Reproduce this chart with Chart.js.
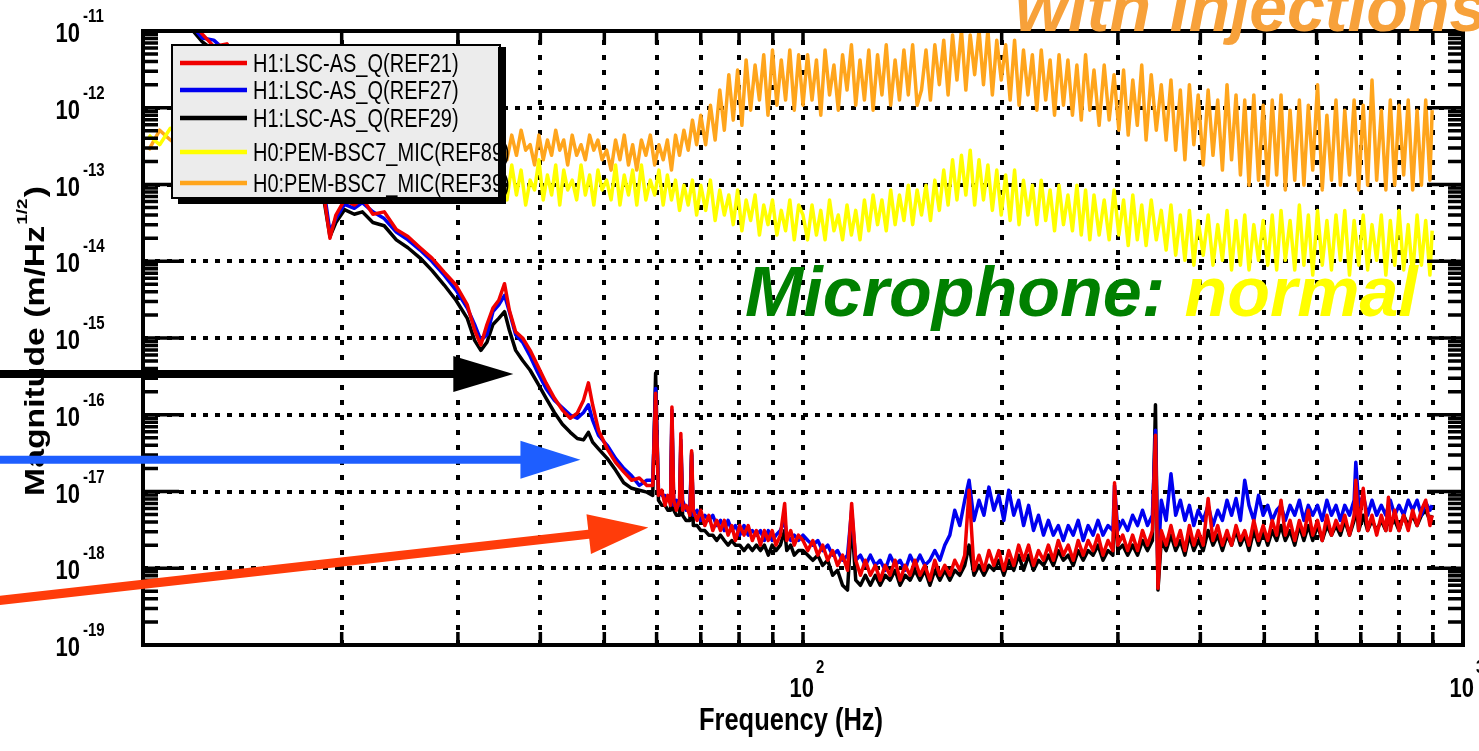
<!DOCTYPE html>
<html>
<head>
<meta charset="utf-8">
<script src="https://cdn.jsdelivr.net/npm/chart.js@4.4.1/dist/chart.umd.min.js"></script>
<style>
html, body { margin: 0; padding: 0; background: #fff; }
canvas { display: block; }
</style>
</head>
<body>
<canvas id="psd" width="1479" height="751" style="width:1479px;height:751px"></canvas>
<script>
// ---- data (Hz, m/rtHz) ----
const freqDet = [
  11.8, 12.3, 12.8, 13.4, 14.0, 14.7, 15.5, 16.4, 17.3, 18.2,
  18.8, 19.2, 19.6, 20.2, 20.9, 21.5, 22.3, 23.2, 24.2, 25.2,
  26.3, 27.4, 28.6, 29.8, 31.0, 31.8, 32.5, 33.2, 33.9, 34.6,
  35.3, 35.9, 36.7, 37.6, 38.6, 39.6, 40.8, 42.0, 43.2, 44.4,
  45.5, 46.5, 47.3, 48.0, 49.0, 50.5, 52.0, 53.5, 55.0, 56.5,
  58.0,
  59.2, 59.8, 60.4, 61.1, 61.8, 62.4, 63.0, 63.3, 63.7, 64.3,
  65.0, 65.3, 65.7, 66.5, 67.4, 67.8, 68.2, 69.1, 70, 71,
  72, 73, 74, 75, 76, 77, 78, 79, 80.2, 81.4,
  82.6, 83.8, 85, 86.2, 87.4, 88.6, 89.8, 91, 92.4, 93.8,
  94.5, 95.8, 97, 98.4,
  100, 101.7, 103.5, 105.3, 107.1, 109, 110.9, 112.8, 114.8, 116.8,
  118.5, 120.2, 122.2, 124.3, 126.5, 128.7, 130.9, 133.2, 135.5, 137.9,
  140.3, 142.8, 145.3, 147.8, 150.4, 153, 155.7, 158.4, 161.2, 164,
  166.9, 169.8, 172.8, 175.8, 178.5,
  181.6, 184.8, 188, 191.3, 194.6, 198, 201.5, 205, 208.6, 212.2,
  215.9, 219.7, 223.5, 227.4, 231.4, 235.4, 239.5, 243.7, 248, 252.3,
  256.7, 261.2, 265.8, 270.4, 275.1, 279.9, 284.8, 289.8, 294.8, 296.5,
  299.9, 305.1, 310.4, 315.8, 321.3, 326.9, 332.6, 338.4,
  342, 345, 349, 355, 361, 367, 373, 379, 385, 391,
  397, 404, 411, 418, 425, 432, 439, 446, 453, 460,
  467, 474, 482, 490, 498, 506, 514, 522, 530, 538,
  547, 556, 565, 574, 583, 592, 602, 612, 622, 632,
  642, 652, 662, 673, 684, 688, 695, 706, 717, 728,
  740, 752, 764, 771, 776, 788, 800, 813, 826, 839,
  852, 865, 878, 891, 898
];

const ref21 = [
  1.4e-11, 9.1e-12, 6.3e-12, 6.8e-12, 4.0e-12, 2.9e-12, 1.7e-12, 1.0e-12, 5.1e-13, 2.1e-13,
  7.2e-14, 2.0e-14, 4.0e-14, 6.3e-14, 5.4e-14, 6.6e-14, 4.1e-14, 4.4e-14, 2.6e-14, 2.1e-14,
  1.5e-14, 1.1e-14, 7.2e-15, 4.9e-15, 2.7e-15, 1.26e-15, 8.1e-16, 1.5e-15, 2.45e-15, 3.1e-15,
  5.1e-15, 2.3e-15, 1.2e-15, 1.0e-15, 6.9e-16, 4.4e-16, 2.6e-16, 1.65e-16, 1.15e-16, 9.0e-17,
  1.05e-16, 1.55e-16, 2.6e-16, 1.35e-16, 6.3e-17, 3.6e-17, 2.4e-17, 1.8e-17, 1.4e-17, 1.5e-17,
  1.2e-17,
  1.2e-17, 1.9e-16, 8.9e-18, 1.04e-17, 6.6e-18, 8.9e-18, 6.6e-18, 1.26e-16, 7.7e-18, 5.7e-18,
  7.7e-18, 5.7e-17, 5.7e-18, 6.6e-18, 4.9e-18, 3.4e-17, 5.7e-18, 4.2e-18, 5.7e-18, 3.6e-18,
  4.9e-18, 3.1e-18, 4.2e-18, 3.1e-18, 4.2e-18, 2.7e-18, 3.6e-18, 2.3e-18, 3.6e-18, 2.7e-18,
  3.6e-18, 2.3e-18, 3.1e-18, 2.0e-18, 3.1e-18, 2.3e-18, 3.1e-18, 2.0e-18, 2.7e-18, 7.0e-18,
  2.3e-18, 3.1e-18, 2.0e-18, 2.7e-18,
  2.3e-18, 1.7e-18, 2.3e-18, 1.48e-18, 2.0e-18, 1.27e-18, 1.7e-18, 1.09e-18, 1.48e-18, 9.4e-19,
  7.0e-18, 1.27e-18, 8.1e-19, 1.27e-18, 8.1e-19, 1.09e-18, 7.0e-19, 1.09e-18, 8.1e-19, 1.27e-18,
  7.0e-19, 1.09e-18, 8.1e-19, 1.27e-18, 8.1e-19, 1.09e-18, 7.0e-19, 1.27e-18, 8.1e-19, 1.09e-18,
  8.1e-19, 1.27e-18, 9.4e-19, 1.48e-18, 1.04e-17,
  9.4e-19, 1.48e-18, 9.4e-19, 1.7e-18, 1.09e-18, 1.7e-18, 9.4e-19, 1.7e-18, 1.09e-18, 2.0e-18,
  1.27e-18, 2.0e-18, 1.09e-18, 1.7e-18, 1.27e-18, 2.0e-18, 1.27e-18, 2.3e-18, 1.48e-18, 2.0e-18,
  1.27e-18, 2.3e-18, 1.48e-18, 2.3e-18, 1.7e-18, 2.7e-18, 1.48e-18, 2.3e-18, 1.7e-18, 1.3e-17,
  2.0e-18, 2.7e-18, 1.7e-18, 2.7e-18, 1.7e-18, 3.1e-18, 2.0e-18, 3.1e-18,
  5.4e-17, 5.5e-19, 3.1e-18, 2.0e-18, 3.6e-18, 2.0e-18, 3.1e-18, 1.7e-18, 3.6e-18, 2.0e-18,
  3.1e-18, 2.0e-18, 8.1e-18, 2.3e-18, 3.6e-18, 2.0e-18, 3.1e-18, 2.0e-18, 3.6e-18, 2.3e-18,
  3.1e-18, 2.0e-18, 4.2e-18, 2.3e-18, 3.6e-18, 2.3e-18, 4.2e-18, 2.7e-18, 7.7e-18, 2.7e-18,
  4.2e-18, 2.3e-18, 4.2e-18, 2.7e-18, 5.7e-18, 2.7e-18, 4.2e-18, 2.3e-18, 4.9e-18, 2.7e-18,
  4.2e-18, 3.1e-18, 4.9e-18, 2.7e-18, 4.9e-18, 1.4e-17, 3.1e-18, 1.1e-17, 3.1e-18, 4.9e-18,
  2.7e-18, 4.9e-18, 3.1e-18, 8.4e-18, 3.1e-18, 5.7e-18, 3.1e-18, 4.9e-18, 3.1e-18, 5.7e-18,
  3.6e-18, 5.7e-18, 7.7e-18, 3.6e-18, 4.9e-18
];

const ref27 = [
  1.23e-11, 8.1e-12, 7.6e-12, 5.3e-12, 4.2e-12, 2.6e-12, 1.8e-12, 8.7e-13, 5.8e-13, 2.4e-13,
  8.5e-14, 2.4e-14, 3.6e-14, 5.5e-14, 4.9e-14, 5.8e-14, 4.4e-14, 3.6e-14, 2.4e-14, 1.9e-14,
  1.4e-14, 1.0e-14, 6.6e-15, 4.2e-15, 2.45e-15, 1.5e-15, 9.3e-16, 1.1e-15, 2.2e-15, 2.7e-15,
  3.6e-15, 2.2e-15, 1.1e-15, 8.8e-16, 5.8e-16, 3.6e-16, 2.2e-16, 1.55e-16, 1.23e-16, 9.9e-17,
  9.0e-17, 1.07e-16, 1.35e-16, 8.5e-17, 5.4e-17, 4.0e-17, 2.7e-17, 2.0e-17, 1.6e-17, 1.2e-17,
  1.4e-17,
  1.4e-17, 2.2e-16, 1.04e-17, 8.9e-18, 8.9e-18, 7.7e-18, 7.7e-18, 1.15e-16, 6.6e-18, 7.7e-18,
  6.6e-18, 4.7e-17, 7.7e-18, 5.7e-18, 6.6e-18, 3.0e-17, 4.9e-18, 5.7e-18, 4.2e-18, 4.9e-18,
  4.2e-18, 4.9e-18, 3.6e-18, 4.2e-18, 3.1e-18, 4.2e-18, 3.1e-18, 3.6e-18, 2.7e-18, 3.6e-18,
  2.7e-18, 3.1e-18, 2.7e-18, 3.1e-18, 2.3e-18, 3.1e-18, 2.3e-18, 2.7e-18, 3.1e-18, 4.2e-18,
  2.7e-18, 2.3e-18, 2.7e-18, 2.3e-18,
  2.7e-18, 2.3e-18, 2.0e-18, 2.3e-18, 1.7e-18, 2.0e-18, 1.48e-18, 1.7e-18, 1.27e-18, 1.48e-18,
  5.7e-18, 1.27e-18, 1.48e-18, 1.09e-18, 1.48e-18, 1.09e-18, 1.27e-18, 9.4e-19, 1.48e-18, 1.09e-18,
  1.27e-18, 9.4e-19, 1.48e-18, 1.09e-18, 1.48e-18, 1.09e-18, 1.27e-18, 1.7e-18, 1.27e-18, 2.0e-18,
  2.7e-18, 5.7e-18, 3.6e-18, 7.7e-18, 1.4e-17,
  4.2e-18, 7.7e-18, 4.9e-18, 1.14e-17, 5.7e-18, 8.9e-18, 4.2e-18, 1.04e-17, 4.9e-18, 7.7e-18,
  3.6e-18, 6.6e-18, 3.1e-18, 4.9e-18, 2.7e-18, 4.2e-18, 2.7e-18, 3.6e-18, 2.3e-18, 3.6e-18,
  2.7e-18, 4.2e-18, 2.3e-18, 3.6e-18, 2.7e-18, 4.2e-18, 2.7e-18, 3.6e-18, 3.1e-18, 1.2e-17,
  3.1e-18, 4.2e-18, 3.1e-18, 4.9e-18, 3.6e-18, 5.7e-18, 3.6e-18, 4.9e-18,
  6.3e-17, 9.4e-19, 7.7e-18, 4.2e-18, 1.7e-17, 4.9e-18, 7.7e-18, 4.2e-18, 6.6e-18, 3.6e-18,
  5.7e-18, 4.2e-18, 6.6e-18, 3.6e-18, 5.7e-18, 4.2e-18, 7.7e-18, 4.9e-18, 8.1e-18, 4.2e-18,
  1.4e-17, 6.6e-18, 4.2e-18, 8.9e-18, 4.9e-18, 6.6e-18, 4.2e-18, 5.7e-18, 6.6e-18, 4.2e-18,
  6.6e-18, 4.9e-18, 7.7e-18, 4.2e-18, 6.6e-18, 4.9e-18, 6.6e-18, 4.2e-18, 7.7e-18, 4.9e-18,
  6.6e-18, 4.2e-18, 6.6e-18, 4.9e-18, 7.7e-18, 2.4e-17, 6.6e-18, 8.9e-18, 4.9e-18, 7.7e-18,
  4.9e-18, 6.6e-18, 4.9e-18, 6.6e-18, 7.7e-18, 4.9e-18, 6.6e-18, 4.9e-18, 7.7e-18, 5.7e-18,
  7.7e-18, 4.9e-18, 7.2e-18, 5.7e-18, 6.6e-18
];

const ref29 = [
  1.1e-11, 7.2e-12, 5.6e-12, 4.7e-12, 3.3e-12, 2.3e-12, 1.4e-12, 7.8e-13, 4.0e-13, 1.6e-13,
  6.3e-14, 2.1e-14, 3.2e-14, 4.7e-14, 4.1e-14, 4.4e-14, 3.2e-14, 2.9e-14, 1.9e-14, 1.5e-14,
  1.1e-14, 7.6e-15, 4.9e-15, 3.1e-15, 1.8e-15, 9.3e-16, 6.9e-16, 8.8e-16, 1.5e-15, 1.8e-15,
  2.2e-15, 1.26e-15, 6.9e-16, 5.1e-16, 3.8e-16, 2.6e-16, 1.65e-16, 1.07e-16, 7.5e-17, 5.9e-17,
  4.9e-17, 4.7e-17, 5.9e-17, 4.4e-17, 3.6e-17, 2.7e-17, 1.9e-17, 1.3e-17, 1.1e-17, 1.04e-17,
  9.8e-18,
  8.9e-18, 3.5e-16, 7.7e-18, 6.6e-18, 6.6e-18, 5.7e-18, 5.7e-18, 8.5e-17, 5.7e-18, 4.9e-18,
  4.9e-18, 4.0e-17, 4.9e-18, 4.2e-18, 4.2e-18, 3.2e-17, 3.6e-18, 3.6e-18, 3.1e-18, 3.1e-18,
  2.7e-18, 2.7e-18, 2.3e-18, 2.7e-18, 2.3e-18, 2.0e-18, 2.3e-18, 2.0e-18, 2.0e-18, 1.7e-18,
  2.0e-18, 1.7e-18, 2.0e-18, 1.7e-18, 2.0e-18, 1.48e-18, 2.0e-18, 1.7e-18, 2.0e-18, 3.1e-18,
  1.7e-18, 2.0e-18, 1.48e-18, 1.7e-18,
  1.7e-18, 1.48e-18, 1.27e-18, 1.48e-18, 1.09e-18, 1.27e-18, 8.1e-19, 9.4e-19, 6.0e-19, 5.2e-19,
  4.2e-18, 7.0e-19, 6.0e-19, 8.1e-19, 6.0e-19, 8.1e-19, 6.0e-19, 8.1e-19, 7.0e-19, 9.4e-19,
  6.0e-19, 8.1e-19, 7.0e-19, 9.4e-19, 7.0e-19, 9.4e-19, 6.0e-19, 9.4e-19, 7.0e-19, 9.4e-19,
  7.0e-19, 9.4e-19, 8.1e-19, 1.09e-18, 2.0e-18,
  8.1e-19, 1.09e-18, 8.1e-19, 1.09e-18, 9.4e-19, 1.27e-18, 8.1e-19, 1.27e-18, 9.4e-19, 1.48e-18,
  9.4e-19, 1.48e-18, 9.4e-19, 1.27e-18, 1.09e-18, 1.48e-18, 1.09e-18, 1.7e-18, 1.27e-18, 1.48e-18,
  1.09e-18, 1.7e-18, 1.27e-18, 1.7e-18, 1.48e-18, 2.0e-18, 1.27e-18, 1.7e-18, 1.48e-18, 7.7e-18,
  1.7e-18, 2.0e-18, 1.48e-18, 2.0e-18, 1.48e-18, 2.3e-18, 1.7e-18, 2.3e-18,
  1.35e-16, 5.2e-19, 2.3e-18, 1.7e-18, 2.7e-18, 1.7e-18, 2.3e-18, 1.48e-18, 2.7e-18, 1.7e-18,
  2.3e-18, 1.7e-18, 3.1e-18, 2.0e-18, 2.7e-18, 1.7e-18, 2.7e-18, 2.0e-18, 3.1e-18, 2.0e-18,
  2.7e-18, 1.7e-18, 3.1e-18, 2.0e-18, 3.1e-18, 2.0e-18, 3.1e-18, 2.3e-18, 3.6e-18, 2.3e-18,
  3.1e-18, 2.0e-18, 3.6e-18, 2.3e-18, 3.6e-18, 2.3e-18, 3.6e-18, 2.3e-18, 3.6e-18, 2.7e-18,
  3.6e-18, 2.7e-18, 4.2e-18, 2.7e-18, 4.2e-18, 7.7e-18, 3.1e-18, 4.9e-18, 3.1e-18, 4.2e-18,
  3.1e-18, 4.2e-18, 3.1e-18, 4.9e-18, 3.6e-18, 4.2e-18, 3.1e-18, 4.9e-18, 3.6e-18, 4.9e-18,
  3.6e-18, 4.9e-18, 5.7e-18, 4.2e-18, 4.9e-18
];

const freqMic = [
  10.2, 10.6, 11.0, 11.5, 15, 20, 25, 30, 33,
  35, 35.6, 36.2, 36.8, 37.4, 38, 38.6, 39.2, 39.8, 40.4,
  41, 41.6, 42.2, 42.8, 43.4, 44, 44.7, 45.4, 46.1, 46.8,
  47.5, 48.2, 48.9, 49.6,
  50.4, 51.2, 52, 52.8, 53.6, 54.4, 55.2, 56, 56.9, 57.8,
  58.7, 59.6, 60.5, 61.4, 62.3, 63.2, 64.1, 65, 66, 67,
  68, 69,
  70, 71.2, 72.4, 73.6, 74.8, 76, 77.2, 78.4, 79.6, 80.8,
  82, 83.3, 84.6, 85.9, 87.2, 88.5, 89.9, 91.3, 92.7, 94.1,
  95.5, 97, 98.5,
  100, 101.6, 103.2, 104.8, 106.4, 108, 109.7, 111.4, 113.1, 114.8,
  116.6, 118.4, 120.2, 122, 123.9, 125.8, 127.7, 129.7, 131.7, 133.7,
  135.8, 137.9, 140, 142.2, 144.4, 146.6, 148.9,
  151.2, 153.6, 156, 158.4, 160.9, 163.4, 165.9, 168.5, 171.1, 173.8,
  176.5, 179.2, 182, 184.8, 187.7, 190.6, 193.6, 196.6, 199.7, 202.8,
  206, 209.2, 212.5, 215.8, 219.2, 222.6, 226.1, 229.6, 233.2, 236.8,
  240.5, 244.3, 248.1,
  252, 256, 260, 264, 268, 272, 276, 281, 286, 291,
  296, 301, 306, 311, 316, 321, 326, 331, 337, 343,
  349, 355, 361, 367, 373, 379, 385, 391, 397, 404,
  411, 418, 425, 432, 439, 446, 453, 460, 467, 474,
  482, 490, 498,
  506, 514, 522, 530, 538, 547, 556, 565, 574, 583,
  592, 602, 612, 622, 632, 642, 652, 662, 673, 684,
  695, 706, 717, 728, 740, 752, 764, 776, 788, 800,
  813, 826, 839, 852, 865, 878, 891, 898
];

const ref89 = [
  4.4e-13, 3.3e-13, 5.4e-13, 3.8e-13, 1.33e-13, 1.54e-13, 1.14e-13, 1.33e-13, 9.8e-14,
  1.33e-13, 6.3e-14, 1.8e-13, 7.3e-14, 1.54e-13, 5.4e-14, 1.14e-13, 8.5e-14, 2.1e-13, 6.3e-14,
  1.33e-13, 7.3e-14, 1.8e-13, 5.4e-14, 1.54e-13, 8.5e-14, 1.14e-13, 6.3e-14, 1.8e-13, 7.3e-14,
  1.33e-13, 5.4e-14, 1.54e-13, 8.5e-14,
  1.14e-13, 6.3e-14, 1.8e-13, 5.4e-14, 1.33e-13, 7.3e-14, 1.54e-13, 5.4e-14, 1.8e-13, 6.3e-14,
  1.14e-13, 7.3e-14, 1.54e-13, 5.4e-14, 1.33e-13, 6.3e-14, 1.14e-13, 4.6e-14, 9.8e-14, 5.4e-14,
  1.14e-13, 4.0e-14,
  9.8e-14, 4.6e-14, 1.14e-13, 3.4e-14, 8.5e-14, 4.0e-14, 7.3e-14, 3.0e-14, 8.5e-14, 2.5e-14,
  6.3e-14, 3.4e-14, 7.3e-14, 2.2e-14, 5.4e-14, 3.0e-14, 6.3e-14, 2.2e-14, 4.6e-14, 2.5e-14,
  6.3e-14, 1.9e-14, 5.4e-14,
  4.0e-14, 1.9e-14, 5.4e-14, 2.2e-14, 4.6e-14, 1.9e-14, 6.3e-14, 2.5e-14, 4.0e-14, 1.9e-14,
  5.4e-14, 2.2e-14, 4.6e-14, 1.9e-14, 6.3e-14, 2.5e-14, 7.3e-14, 3.0e-14, 6.3e-14, 2.5e-14,
  8.5e-14, 3.0e-14, 7.3e-14, 3.4e-14, 9.8e-14, 3.0e-14, 8.5e-14,
  4.0e-14, 9.8e-14, 3.4e-14, 1.14e-13, 4.6e-14, 1.54e-13, 5.4e-14, 2.1e-13, 6.3e-14, 2.4e-13,
  7.3e-14, 2.8e-13, 5.4e-14, 2.1e-13, 6.3e-14, 1.8e-13, 4.6e-14, 1.54e-13, 4.0e-14, 1.33e-13,
  3.4e-14, 1.54e-13, 3.0e-14, 1.14e-13, 4.0e-14, 9.8e-14, 3.0e-14, 1.14e-13, 3.4e-14, 8.5e-14,
  2.5e-14, 9.8e-14, 3.0e-14,
  7.3e-14, 2.5e-14, 9.8e-14, 2.2e-14, 8.5e-14, 1.9e-14, 7.3e-14, 2.2e-14, 6.3e-14, 1.9e-14,
  8.5e-14, 2.2e-14, 6.3e-14, 1.6e-14, 7.3e-14, 1.9e-14, 5.4e-14, 1.6e-14, 6.3e-14, 1.9e-14,
  4.6e-14, 1.4e-14, 5.4e-14, 1.2e-14, 4.0e-14, 1.03e-14, 4.6e-14, 8.9e-15, 3.4e-14, 1.2e-14,
  4.0e-14, 8.9e-15, 3.0e-14, 1.03e-14, 4.6e-14, 7.7e-15, 3.4e-14, 8.9e-15, 4.0e-14, 7.7e-15,
  3.0e-14, 1.03e-14, 3.4e-14,
  8.9e-15, 4.0e-14, 7.7e-15, 4.6e-14, 1.03e-14, 3.4e-14, 7.7e-15, 5.4e-14, 8.9e-15, 4.0e-14,
  6.6e-15, 4.6e-14, 8.9e-15, 3.4e-14, 7.7e-15, 4.0e-14, 1.03e-14, 4.6e-14, 6.6e-15, 3.4e-14,
  8.9e-15, 4.0e-14, 7.7e-15, 3.0e-14, 1.03e-14, 4.0e-14, 6.6e-15, 3.4e-14, 8.9e-15, 4.6e-14,
  7.7e-15, 3.0e-14, 6.6e-15, 4.0e-14, 8.9e-15, 3.4e-14, 6.6e-15, 2.5e-14
];

const ref39 = [
  2.8e-13, 5.1e-13, 3.8e-13, 2.8e-13, 3.3e-13, 3.8e-13, 2.8e-13, 3.3e-13, 2.8e-13,
  3.8e-13, 2.1e-13, 4.4e-13, 2.4e-13, 5.1e-13, 2.8e-13, 3.3e-13, 1.8e-13, 4.4e-13, 2.1e-13,
  3.8e-13, 2.4e-13, 5.1e-13, 2.8e-13, 3.8e-13, 1.8e-13, 4.4e-13, 2.4e-13, 3.3e-13, 2.1e-13,
  4.4e-13, 2.8e-13, 3.8e-13, 2.1e-13,
  2.8e-13, 1.54e-13, 3.8e-13, 2.1e-13, 4.4e-13, 1.8e-13, 3.3e-13, 1.54e-13, 3.8e-13, 2.4e-13,
  4.4e-13, 1.8e-13, 3.3e-13, 2.1e-13, 3.8e-13, 1.54e-13, 4.4e-13, 2.4e-13, 5.1e-13, 2.8e-13,
  6.9e-13, 3.3e-13,
  8.0e-13, 3.3e-13, 1.08e-12, 3.8e-13, 1.7e-12, 5.1e-13, 2.7e-12, 6.9e-13, 3.1e-12, 5.9e-13,
  4.2e-12, 9.3e-13, 3.6e-12, 1.26e-12, 4.9e-12, 8.0e-13, 5.65e-12, 1.08e-12, 4.2e-12, 1.26e-12,
  5.65e-12, 9.3e-13, 4.9e-12,
  1.08e-12, 4.9e-12, 1.26e-12, 4.2e-12, 8.0e-13, 5.65e-12, 1.47e-12, 3.6e-12, 9.3e-13, 4.9e-12,
  1.7e-12, 6.6e-12, 1.08e-12, 4.2e-12, 1.26e-12, 5.65e-12, 9.3e-13, 4.9e-12, 1.47e-12, 6.6e-12,
  1.08e-12, 4.2e-12, 1.26e-12, 5.65e-12, 1.47e-12, 6.6e-12, 1.08e-12,
  1.7e-12, 5.65e-12, 1.26e-12, 6.6e-12, 2.0e-12, 7.6e-12, 1.47e-12, 8.9e-12, 2.3e-12, 1.03e-11,
  1.7e-12, 8.9e-12, 2.7e-12, 1.03e-11, 2.0e-12, 1.03e-11, 1.47e-12, 7.6e-12, 2.3e-12, 6.6e-12,
  1.26e-12, 7.6e-12, 1.08e-12, 5.65e-12, 1.47e-12, 4.9e-12, 9.3e-13, 5.65e-12, 1.26e-12, 4.2e-12,
  8.0e-13, 4.9e-12, 1.08e-12,
  4.2e-12, 8.0e-13, 3.6e-12, 6.9e-13, 4.9e-12, 9.3e-13, 3.1e-12, 5.9e-13, 3.6e-12, 6.9e-13,
  2.7e-12, 5.1e-13, 3.1e-12, 4.4e-13, 2.3e-12, 5.9e-13, 3.6e-12, 3.8e-13, 2.7e-12, 5.1e-13,
  2.0e-12, 3.8e-13, 2.3e-12, 2.8e-13, 1.7e-12, 2.1e-13, 2.0e-12, 3.3e-13, 1.47e-12, 1.8e-13,
  1.7e-12, 2.4e-13, 1.26e-12, 1.54e-13, 2.0e-12, 2.1e-13, 1.47e-12, 1.33e-13, 1.26e-12, 9.8e-14,
  1.47e-12, 1.14e-13, 1.08e-12,
  9.8e-14, 1.26e-12, 1.33e-13, 1.47e-12, 8.5e-14, 9.3e-13, 1.14e-13, 1.26e-12, 9.8e-14, 1.08e-12,
  1.54e-13, 2.0e-12, 8.5e-14, 8.0e-13, 1.14e-13, 1.26e-12, 9.8e-14, 9.3e-13, 1.33e-13, 1.26e-12,
  8.5e-14, 1.08e-12, 9.8e-14, 2.3e-12, 1.14e-13, 9.3e-13, 8.5e-14, 1.26e-12, 9.8e-14, 1.08e-12,
  1.33e-13, 1.26e-12, 8.5e-14, 9.3e-13, 9.8e-14, 1.26e-12, 1.14e-13, 9.3e-13
];

const seriesNames = [
  'H1:LSC-AS_Q(REF21)', 'H1:LSC-AS_Q(REF27)', 'H1:LSC-AS_Q(REF29)',
  'H0:PEM-BSC7_MIC(REF89)', 'H0:PEM-BSC7_MIC(REF39)'
];
const seriesColors = ['#f00000', '#0000f0', '#000000', '#ffff00', '#ffa51c'];

// axis ticks
const xGridValues = [20, 30, 40, 50, 60, 70, 80, 90, 100, 200, 300, 400, 500, 600, 700, 800, 900];
const xLabelValues = [100, 1000];
const xLabelExps = ['2', '3'];
const yDecades = [1e-19, 1e-18, 1e-17, 1e-16, 1e-15, 1e-14, 1e-13, 1e-12, 1e-11];
const yLabelExps = ['-19', '-18', '-17', '-16', '-15', '-14', '-13', '-12', '-11'];
const minorSteps = [2, 3, 4, 5, 6, 7, 8, 9];

// slide arrows: tail and tip as [Hz, magnitude]
const arrows = [
  { tail: [6.05, 3.4e-16], tip: [36.4, 3.4e-16], color: '#000000', w: 8, half: 18 },
  { tail: [6.05, 2.6e-17], tip: [46.0, 2.6e-17], color: '#1e5eff', w: 8, half: 19 },
  { tail: [6.05, 3.8e-19], tip: [58.3, 3.4e-18], color: '#ff3c0a', w: 9, half: 20 }
];

const FONT = '"Liberation Sans", Arial, Helvetica, sans-serif';
const SY = 1.25; // the figure is stretched vertically on the slide

function txt(ctx, s, x, y, font, align, sx, sy) {
  ctx.save();
  ctx.translate(x, y);
  ctx.scale(sx, sy);
  ctx.font = font;
  ctx.textAlign = align;
  ctx.textBaseline = 'alphabetic';
  ctx.fillText(s, 0, 0);
  ctx.restore();
}

const matlabAxes = {
  id: 'matlabAxes',
  beforeDraw(chart) {
    const ctx = chart.ctx;
    ctx.save();
    ctx.fillStyle = '#ffffff';
    ctx.fillRect(0, 0, chart.width, chart.height);
    ctx.restore();
  },
  beforeDatasetsDraw(chart) {
    const ctx = chart.ctx, a = chart.chartArea;
    const xs = chart.scales.x, ys = chart.scales.y;
    ctx.save();
    ctx.strokeStyle = '#000';
    ctx.lineWidth = 4;
    ctx.setLineDash([5, 7]);
    yDecades.slice(1, -1).forEach(v => {
      const py = Math.round(ys.getPixelForValue(v));
      ctx.beginPath(); ctx.moveTo(a.left, py); ctx.lineTo(a.right, py); ctx.stroke();
    });
    ctx.setLineDash([5, 10]);
    xGridValues.forEach(v => {
      const px = Math.round(xs.getPixelForValue(v));
      ctx.beginPath(); ctx.moveTo(px, a.bottom); ctx.lineTo(px, a.top); ctx.stroke();
    });
    ctx.restore();
  },
  afterDatasetsDraw(chart) {
    const ctx = chart.ctx, a = chart.chartArea;
    const xs = chart.scales.x, ys = chart.scales.y;
    ctx.save();
    ctx.setLineDash([]);
    ctx.strokeStyle = '#000';
    ctx.fillStyle = '#000';

    // ticks
    ctx.lineWidth = 3.5;
    yDecades.forEach((d, i) => {
      const py = ys.getPixelForValue(d);
      ctx.beginPath();
      ctx.moveTo(a.left, py); ctx.lineTo(a.left + 36, py);
      ctx.moveTo(a.right, py); ctx.lineTo(a.right - 36, py);
      ctx.stroke();
      if (i < yDecades.length - 1) {
        minorSteps.forEach(m => {
          const pm = ys.getPixelForValue(m * d);
          ctx.beginPath();
          ctx.moveTo(a.left, pm); ctx.lineTo(a.left + 15, pm);
          ctx.moveTo(a.right, pm); ctx.lineTo(a.right - 15, pm);
          ctx.stroke();
        });
      }
    });
    xGridValues.forEach(v => {
      const px = xs.getPixelForValue(v);
      ctx.beginPath();
      ctx.moveTo(px, a.bottom); ctx.lineTo(px, a.bottom - 13);
      ctx.moveTo(px, a.top); ctx.lineTo(px, a.top + 13);
      ctx.stroke();
    });

    // frame
    ctx.lineWidth = 4;
    ctx.strokeRect(a.left, a.top, a.right - a.left, a.bottom - a.top);

    // tick labels
    yDecades.forEach((d, i) => {
      const py = ys.getPixelForValue(d);
      txt(ctx, '10', a.left - 63, py + 11, 'bold 22px ' + FONT, 'right', 1, SY);
      txt(ctx, yLabelExps[i], a.left - 60, py - 9, 'bold 15px ' + FONT, 'left', 1, SY);
    });
    xLabelValues.forEach((v, i) => {
      const px = xs.getPixelForValue(v);
      txt(ctx, '10', px + 11, 697, 'bold 22px ' + FONT, 'right', 1, SY);
      txt(ctx, xLabelExps[i], px + 13, 673, 'bold 15px ' + FONT, 'left', 1, SY);
    });

    // axis titles
    txt(ctx, 'Frequency (Hz)', 791, 730, 'bold 25.5px ' + FONT, 'center', 1, SY);
    ctx.save();
    ctx.translate(44, 341);
    ctx.rotate(-Math.PI / 2);
    ctx.scale(SY, 1);
    ctx.textAlign = 'left';
    ctx.font = 'bold 27px ' + FONT;
    const main = 'Magnitude (m/Hz';
    const w1 = ctx.measureText(main).width;
    const w3 = ctx.measureText(')').width;
    ctx.font = 'bold 15px ' + FONT;
    const w2 = ctx.measureText('1/2').width + 2;
    const x0 = -(w1 + w2 + w3) / 2;
    ctx.font = 'bold 27px ' + FONT;
    ctx.fillText(main, x0, 0);
    ctx.fillText(')', x0 + w1 + w2, 0);
    ctx.font = 'bold 15px ' + FONT;
    ctx.fillText('1/2', x0 + w1 + 1, -17);
    ctx.restore();

    // legend box with shadow
    const L = 172, T = 45, W = 328, H = 153;
    ctx.fillStyle = '#000';
    ctx.fillRect(L + 6, T + 6, W, H);
    ctx.fillStyle = '#ececec';
    ctx.fillRect(L, T, W, H);
    ctx.lineWidth = 2;
    ctx.strokeRect(L, T, W, H);
    const rows = [63, 90, 118, 152, 183];
    seriesNames.forEach((name, i) => {
      ctx.strokeStyle = seriesColors[i];
      ctx.lineWidth = 4.5;
      ctx.beginPath(); ctx.moveTo(180, rows[i]); ctx.lineTo(247, rows[i]); ctx.stroke();
      ctx.fillStyle = '#000';
      txt(ctx, name, 253, rows[i] + 9, '20px ' + FONT, 'left', 1, SY);
    });
    ctx.fillStyle = '#000';
    ctx.fillRect(L + W - 2, T + 2, 8, H + 4);

    // slide notes
    ctx.font = 'italic bold 70px ' + FONT;
    ctx.textAlign = 'left';
    ctx.fillStyle = '#008000';
    const mic = 'Microphone: ';
    ctx.fillText(mic, 745, 316);
    ctx.fillStyle = '#ffff00';
    ctx.fillText('normal', 745 + ctx.measureText(mic).width, 316);
    ctx.font = 'italic bold 68px ' + FONT;
    ctx.fillStyle = '#f7a13a';
    ctx.fillText('with injections', 1015, 31);

    // arrows
    arrows.forEach(ar => {
      const x1 = xs.getPixelForValue(ar.tail[0]), y1 = ys.getPixelForValue(ar.tail[1]);
      const x2 = xs.getPixelForValue(ar.tip[0]), y2 = ys.getPixelForValue(ar.tip[1]);
      const ang = Math.atan2(y2 - y1, x2 - x1);
      const hl = 60;
      const bx = x2 - hl * Math.cos(ang), by = y2 - hl * Math.sin(ang);
      ctx.strokeStyle = ar.color;
      ctx.fillStyle = ar.color;
      ctx.lineWidth = ar.w;
      ctx.beginPath(); ctx.moveTo(x1, y1); ctx.lineTo(bx + 2 * Math.cos(ang), by + 2 * Math.sin(ang)); ctx.stroke();
      ctx.beginPath();
      ctx.moveTo(x2, y2);
      ctx.lineTo(bx + ar.half * Math.sin(ang), by - ar.half * Math.cos(ang));
      ctx.lineTo(bx - ar.half * Math.sin(ang), by + ar.half * Math.cos(ang));
      ctx.closePath();
      ctx.fill();
    });
    ctx.restore();
  }
};

function pairs(fr, vals) {
  return fr.map((f, i) => ({ x: f, y: vals[i] }));
}

const seriesData = [
  pairs(freqDet, ref21), pairs(freqDet, ref27), pairs(freqDet, ref29),
  pairs(freqMic, ref89), pairs(freqMic, ref39)
];

new Chart(document.getElementById('psd'), {
  type: 'line',
  data: {
    datasets: seriesNames.map((name, i) => ({
      label: name,
      data: seriesData[i],
      borderColor: seriesColors[i],
      backgroundColor: seriesColors[i],
      borderWidth: 3.5,
      fill: false
    }))
  },
  options: {
    responsive: false,
    animation: false,
    devicePixelRatio: 1,
    layout: { padding: { left: 143, right: 16, top: 31, bottom: 106 } },
    elements: {
      point: { radius: 0 },
      line: { tension: 0, borderJoinStyle: 'round' }
    },
    scales: {
      x: { type: 'logarithmic', min: 10, max: 1000, display: false },
      y: { type: 'logarithmic', min: 1e-19, max: 1e-11, display: false }
    },
    plugins: {
      legend: { display: false },
      tooltip: { enabled: false }
    }
  },
  plugins: [matlabAxes]
});
</script>
</body>
</html>
